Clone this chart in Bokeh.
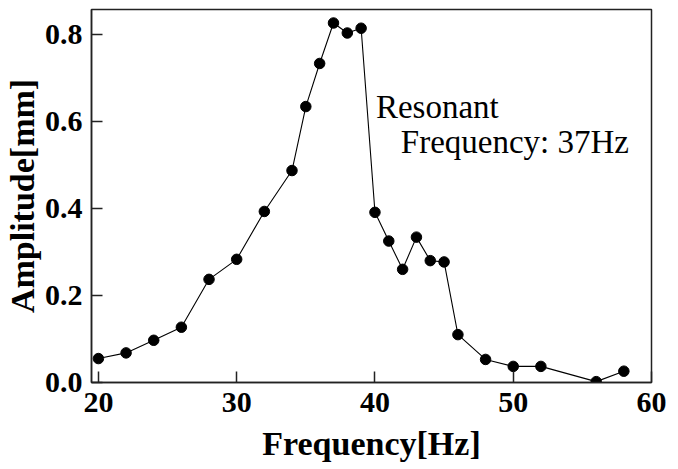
from bokeh.plotting import figure
from bokeh.models import Range1d, FixedTicker, NumeralTickFormatter, Label
from bokeh.embed import file_html
from bokeh.resources import INLINE

# Data
frequency_hz = [20, 22, 24, 26, 28, 30, 32, 34, 35, 36, 37, 38, 39, 40, 41, 42,
                43, 44, 45, 46, 48, 50, 52, 56, 58]
amplitude_mm = [0.055, 0.068, 0.097, 0.127, 0.237, 0.283, 0.393, 0.487, 0.634,
                0.733, 0.826, 0.803, 0.814, 0.391, 0.325, 0.260, 0.334, 0.280,
                0.277, 0.110, 0.053, 0.037, 0.037, 0.002, 0.026]
x_ticks = [20, 30, 40, 50, 60]
y_ticks = [0.0, 0.2, 0.4, 0.6, 0.8]
x_title = "Frequency[Hz]"
y_title = "Amplitude[mm]"
note_line1 = "Resonant"
note_line2 = "Frequency: 37Hz"

FONT = "Liberation Serif"

p = figure(width=678, height=469, output_backend="svg", toolbar_location=None,
           x_range=Range1d(19.5, 60), y_range=Range1d(0, 0.857),
           min_border_left=91, min_border_right=27, min_border_top=9,
           min_border_bottom=87)

p.xgrid.visible = False
p.ygrid.visible = False
p.outline_line_color = "#222222"
p.outline_line_width = 1.5
p.outline_line_alpha = 1.0

for ax in (p.xaxis[0], p.yaxis[0]):
    ax.axis_line_color = "#222222"
    ax.axis_line_width = 1.5
    ax.major_tick_line_color = "#222222"
    ax.major_tick_line_width = 1.5
    ax.major_tick_in = 11
    ax.major_tick_out = 0
    ax.minor_tick_line_color = None
    ax.major_label_text_font = FONT
    ax.major_label_text_font_style = "bold"
    ax.major_label_text_font_size = "30px"
    ax.major_label_text_color = "black"
    ax.axis_label_text_font = FONT
    ax.axis_label_text_font_style = "bold"
    ax.axis_label_text_font_size = "34px"
    ax.axis_label_text_color = "black"

p.xaxis[0].ticker = FixedTicker(ticks=x_ticks)
p.yaxis[0].ticker = FixedTicker(ticks=y_ticks)
p.yaxis[0].formatter = NumeralTickFormatter(format="0.0")
p.xaxis[0].axis_label = x_title
p.yaxis[0].axis_label = y_title
p.xaxis[0].major_label_standoff = 10
p.yaxis[0].major_label_standoff = 9
p.xaxis[0].axis_label_standoff = 10
p.yaxis[0].axis_label_standoff = 1

p.line(frequency_hz, amplitude_mm, line_color="black", line_width=1.1)
p.scatter(frequency_hz, amplitude_mm, size=10.5, marker="circle",
          fill_color="black", line_color="black")

p.add_layout(Label(x=40.07, y=0.634, text=note_line1, text_font=FONT,
                   text_font_size="33px", text_color="black",
                   text_baseline="alphabetic"))
p.add_layout(Label(x=41.87, y=0.552, text=note_line2, text_font=FONT,
                   text_font_size="33px", text_color="black",
                   text_baseline="alphabetic"))

open("out.html", "w").write(file_html(p, INLINE))
